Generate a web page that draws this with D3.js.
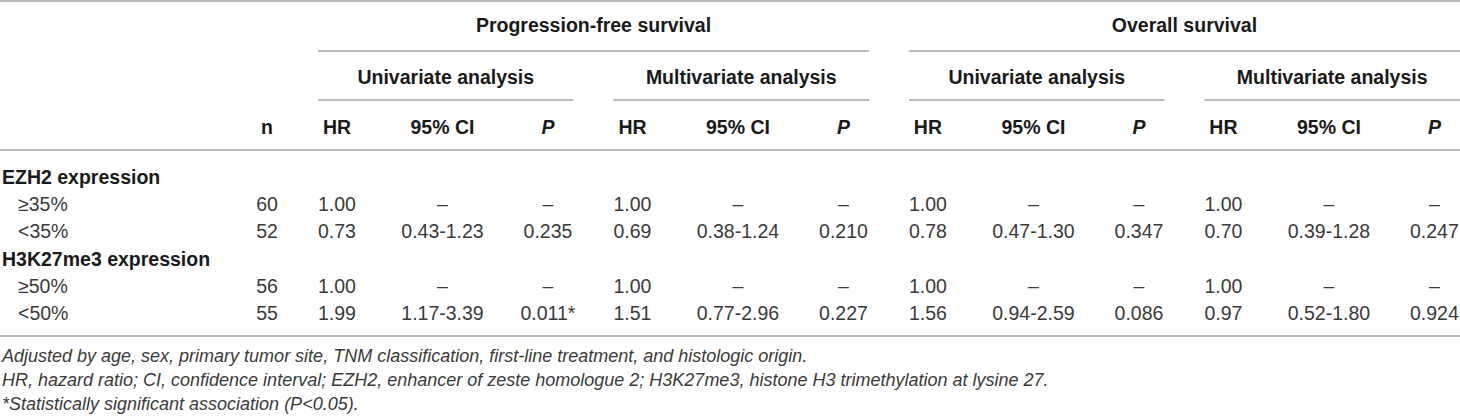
<!DOCTYPE html>
<html>
<head>
<meta charset="utf-8">
<script src="https://cdn.jsdelivr.net/npm/d3@7"></script>
<style>
  html, body { margin: 0; padding: 0; background: #fff; }
  svg { display: block; font-family: "Liberation Sans", Arial, Helvetica, sans-serif; }
</style>
</head>
<body>
<div id="chart"></div>
<script>
// ---- data ----
var rowLabels = ["EZH2 expression", "≥35%", "<35%", "H3K27me3 expression", "≥50%", "<50%"];
var rowIsHeader = [true, false, false, true, false, false];
var nValues = [null, 60, 52, null, 56, 55];

var outcomes = ["Progression-free survival", "Overall survival"];
var analyses = ["Univariate analysis", "Multivariate analysis"];
var subCols = ["HR", "95% CI", "P"];

// one entry per data row (the 4 non-header rows), null = reference level
var pfsUniHR = [1.00, 0.73, 1.00, 1.99];
var pfsUniLo = [null, 0.43, null, 1.17];
var pfsUniHi = [null, 1.23, null, 3.39];
var pfsUniP = [null, 0.235, null, 0.011];

var pfsMultiHR = [1.00, 0.69, 1.00, 1.51];
var pfsMultiLo = [null, 0.38, null, 0.77];
var pfsMultiHi = [null, 1.24, null, 2.96];
var pfsMultiP = [null, 0.210, null, 0.227];

var osUniHR = [1.00, 0.78, 1.00, 1.56];
var osUniLo = [null, 0.47, null, 0.94];
var osUniHi = [null, 1.30, null, 2.59];
var osUniP = [null, 0.347, null, 0.086];

var osMultiHR = [1.00, 0.70, 1.00, 0.97];
var osMultiLo = [null, 0.39, null, 0.52];
var osMultiHi = [null, 1.28, null, 1.80];
var osMultiP = [null, 0.247, null, 0.924];

var footnotes = [
  "Adjusted by age, sex, primary tumor site, TNM classification, first-line treatment, and histologic origin.",
  "HR, hazard ratio; CI, confidence interval; EZH2, enhancer of zeste homologue 2; H3K27me3, histone H3 trimethylation at lysine 27.",
  "*Statistically significant association (P<0.05)."
];

// ---- layout ----
var width = 1460, height = 420;
var lineColor = "#a3a3a3";
var textColor = "#3a3a3a";
var headColor = "#1a1a1a";
var bodySize = 19.5;
var noteSize = 18;

var groups = [
  { key: "pfs-uni", hr: pfsUniHR, lo: pfsUniLo, hi: pfsUniHi, p: pfsUniP },
  { key: "pfs-multi", hr: pfsMultiHR, lo: pfsMultiLo, hi: pfsMultiHi, p: pfsMultiP },
  { key: "os-uni", hr: osUniHR, lo: osUniLo, hi: osUniHi, p: osUniP },
  { key: "os-multi", hr: osMultiHR, lo: osMultiLo, hi: osMultiHi, p: osMultiP }
];

var x = d3.scaleBand()
  .domain(groups.map(function (g) { return g.key; }))
  .range([318, width])
  .paddingInner(0.135)
  .paddingOuter(0);

var xSub = d3.scalePoint().domain(subCols).range([19, 230]);

var y = d3.scalePoint().domain(d3.range(rowLabels.length)).range([177, 313]);

var fmtHR = d3.format(".2f");
var fmtP = d3.format(".3f");
var dash = "–";

var svg = d3.select("#chart").append("svg")
  .attr("width", width)
  .attr("height", height);

function hline(x1, x2, yy) {
  svg.append("line")
    .attr("x1", x1).attr("x2", x2)
    .attr("y1", yy).attr("y2", yy)
    .attr("stroke", lineColor)
    .attr("stroke-width", 1.6);
}

function text(str, xx, yy, opts) {
  opts = opts || {};
  return svg.append("text")
    .attr("x", xx)
    .attr("y", yy)
    .attr("dy", "0.36em")
    .attr("text-anchor", opts.anchor || "middle")
    .attr("font-size", opts.size || bodySize)
    .attr("font-weight", opts.bold ? "bold" : null)
    .attr("font-style", opts.italic ? "italic" : null)
    .attr("fill", opts.fill || textColor)
    .text(str);
}

// rules
hline(0, width, 1);
hline(0, width, 150);
hline(0, width, 336);

// outcome headers span two analysis groups each
outcomes.forEach(function (name, i) {
  var a = x(groups[i * 2].key);
  var b = x(groups[i * 2 + 1].key) + x.bandwidth();
  text(name, (a + b) / 2, 25, { bold: true, fill: headColor });
  hline(a, b, 51);
});

// analysis headers + column headers
groups.forEach(function (g, i) {
  var a = x(g.key);
  text(analyses[i % 2], a + x.bandwidth() / 2, 77, { bold: true, fill: headColor });
  hline(a, a + x.bandwidth(), 100);
  subCols.forEach(function (c) {
    text(c, a + xSub(c), 127, { bold: true, italic: c === "P", fill: headColor });
  });
});
text("n", 267, 127, { bold: true, fill: headColor });

// body rows
var dataRow = 0;
rowLabels.forEach(function (lab, r) {
  var yy = y(r);
  if (rowIsHeader[r]) {
    text(lab, 2, yy, { anchor: "start", bold: true, fill: headColor });
    return;
  }
  text(lab, 18, yy, { anchor: "start" });
  text(nValues[r], 267, yy);
  var k = dataRow;
  groups.forEach(function (g) {
    var a = x(g.key);
    text(fmtHR(g.hr[k]), a + xSub("HR"), yy);
    text(g.lo[k] == null ? dash : fmtHR(g.lo[k]) + "-" + fmtHR(g.hi[k]), a + xSub("95% CI"), yy);
    text(g.p[k] == null ? dash : fmtP(g.p[k]) + (g.p[k] < 0.05 ? "*" : ""), a + xSub("P"), yy);
  });
  dataRow++;
});

// footnotes
var yNote = d3.scalePoint().domain(d3.range(footnotes.length)).range([356, 404]);
footnotes.forEach(function (f, i) {
  text(f, 2, yNote(i), { anchor: "start", italic: true, size: noteSize });
});
</script>
</body>
</html>
